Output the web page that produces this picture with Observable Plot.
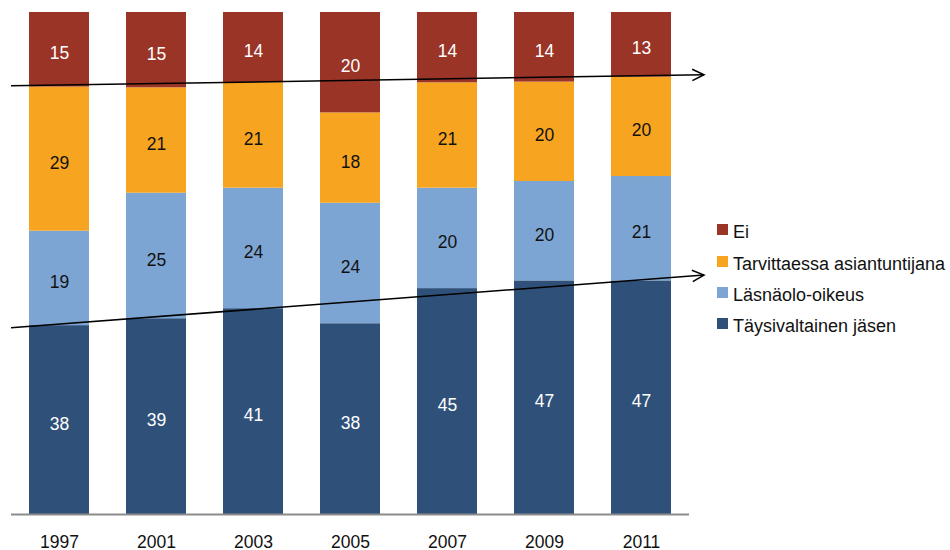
<!DOCTYPE html>
<html>
<head>
<meta charset="utf-8">
<script src="https://cdn.jsdelivr.net/npm/d3@7"></script>
<script src="https://cdn.jsdelivr.net/npm/@observablehq/plot@0.6"></script>
<style>
  html, body { margin: 0; padding: 0; background: #fff; }
  #wrap { position: relative; width: 950px; height: 550px; font-family: "Liberation Sans", Arial, sans-serif; }
  #legend { position: absolute; left: 717px; top: 217px; }
  .item { display: flex; align-items: center; height: 31.4px; font-size: 18px; color: #111; white-space: nowrap; }
  .sw { width: 11px; height: 11px; margin-right: 5px; margin-top: -6px; }
</style>
</head>
<body>
<div id="wrap"></div>
<script>
const years = ["1997", "2001", "2003", "2005", "2007", "2009", "2011"];
const series = ["Täysivaltainen jäsen", "Läsnäolo-oikeus", "Tarvittaessa asiantuntijana", "Ei"];
const taysivaltainen = [38, 39, 41, 38, 45, 47, 47];
const lasnaolo = [19, 25, 24, 24, 20, 20, 21];
const tarvittaessa = [29, 21, 21, 18, 21, 20, 20];
const ei = [15, 15, 14, 20, 14, 14, 13];
const colors = ["#2F5179", "#7DA5D3", "#F7A521", "#993426"];
const legendOrder = ["Ei", "Tarvittaessa asiantuntijana", "Läsnäolo-oikeus", "Täysivaltainen jäsen"];
// trend arrows (share of total, start / end)
const upperTrend = [0.853, 0.875];
const lowerTrend = [0.371, 0.476];

const valuesBySeries = [taysivaltainen, lasnaolo, tarvittaessa, ei];
const data = [];
series.forEach((s, si) => years.forEach((y, yi) => data.push({year: y, series: s, value: valuesBySeries[si][yi]})));
const darkSeries = ["Täysivaltainen jäsen", "Ei"];

const stackOpts = {x: "year", y: "value", z: "series", order: series, offset: "normalize"};

function arrows(index, scales, values, dim) {
  const g = d3.create("svg:g");
  const x0 = dim.marginLeft;
  const x1 = dim.width - dim.marginRight + 15;
  for (const t of [upperTrend, lowerTrend]) {
    const y0 = scales.y(t[0]), y1 = scales.y(t[1]);
    const ang = Math.atan2(y1 - y0, x1 - x0);
    const L = 13, a = Math.PI / 7;
    g.append("line").attr("x1", x0).attr("y1", y0).attr("x2", x1).attr("y2", y1)
      .attr("stroke", "#000").attr("stroke-width", 1.5);
    const p = [
      [x1 - L * Math.cos(ang - a), y1 - L * Math.sin(ang - a)],
      [x1, y1],
      [x1 - L * Math.cos(ang + a), y1 - L * Math.sin(ang + a)]
    ];
    g.append("path").attr("d", "M" + p.map(q => q.join(",")).join("L"))
      .attr("fill", "none").attr("stroke", "#000").attr("stroke-width", 1.5);
  }
  return g.node();
}

const chart = Plot.plot({
  width: 950,
  height: 550,
  marginLeft: 11,
  marginRight: 261,
  marginTop: 12,
  marginBottom: 36,
  style: {fontFamily: "Liberation Sans, Arial, sans-serif", fontSize: "17px", background: "#fff", overflow: "visible"},
  x: {domain: years, paddingInner: 0.38, paddingOuter: 0.17, label: null},
  y: {domain: [0, 1], axis: null},
  color: {domain: series, range: colors},
  marks: [
    Plot.barY(data, Plot.stackY({...stackOpts, fill: "series"})),
    Plot.text(data, Plot.filter(d => darkSeries.includes(d.series), Plot.stackY({...stackOpts, text: "value", fill: "white", fontSize: 17.5, dy: 4}))),
    Plot.text(data, Plot.filter(d => !darkSeries.includes(d.series), Plot.stackY({...stackOpts, text: "value", fill: "#111", fontSize: 17.5, dy: 4}))),
    Plot.axisX({tickSize: 0, tickPadding: 21, fontSize: 17.5, fill: "#111", label: null}),
    Plot.ruleY([0], {stroke: "#8c8c8c", strokeWidth: 2}),
    arrows
  ]
});

const wrap = document.getElementById("wrap");
wrap.appendChild(chart);
const legend = document.createElement("div");
legend.id = "legend";
for (const s of legendOrder) {
  const item = document.createElement("div");
  item.className = "item";
  const sw = document.createElement("div");
  sw.className = "sw";
  sw.style.background = colors[series.indexOf(s)];
  const label = document.createElement("span");
  label.textContent = s;
  item.appendChild(sw);
  item.appendChild(label);
  legend.appendChild(item);
}
wrap.appendChild(legend);
</script>
</body>
</html>
